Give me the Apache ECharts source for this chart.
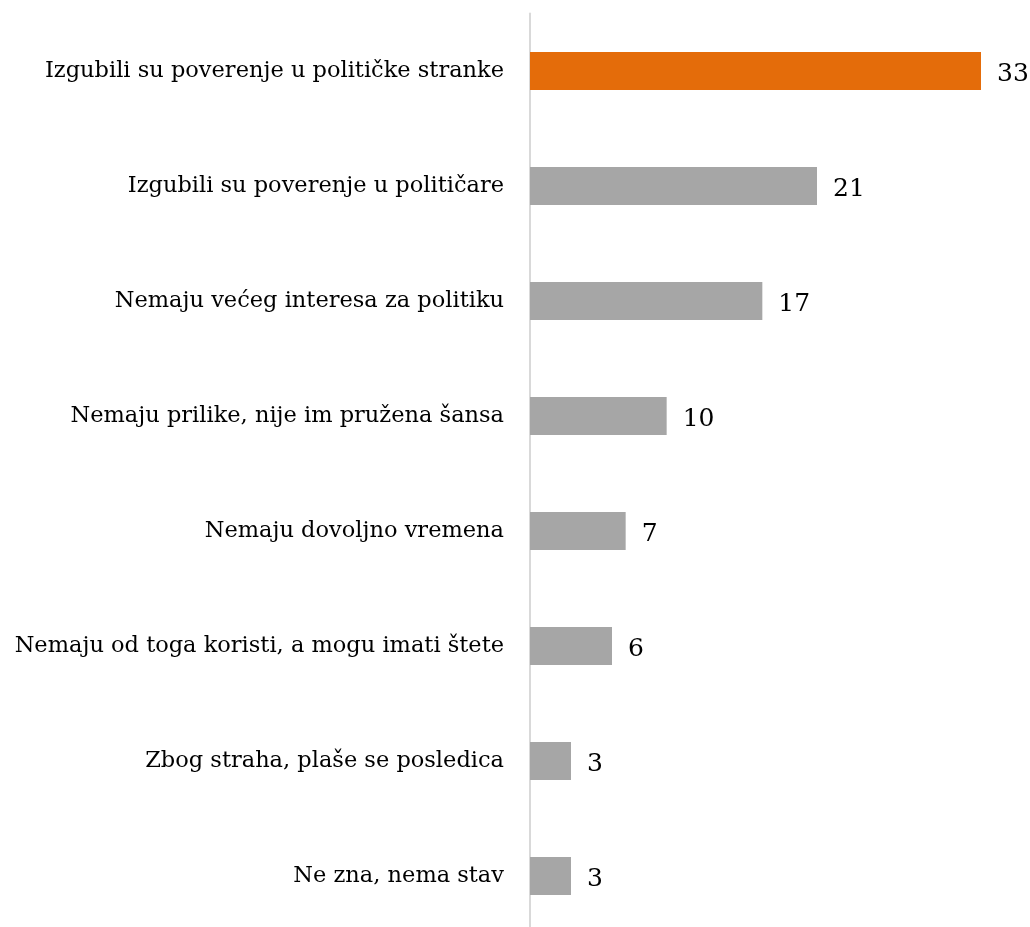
<!DOCTYPE html>
<html>
<head>
<meta charset="utf-8">
<script src="https://cdn.jsdelivr.net/npm/echarts@6/dist/echarts.min.js"></script>
<style>
html,body{margin:0;padding:0;background:#fff;}
#chart{width:1030px;height:927px;}
</style>
</head>
<body>
<div id="chart"></div>
<script>
const categories = [
  "Izgubili su poverenje u političke stranke",
  "Izgubili su poverenje u političare",
  "Nemaju većeg interesa za politiku",
  "Nemaju prilike, nije im pružena šansa",
  "Nemaju dovoljno vremena",
  "Nemaju od toga koristi, a mogu imati štete",
  "Zbog straha, plaše se posledica",
  "Ne zna, nema stav"
];
const values = [33, 21, 17, 10, 7, 6, 3, 3];
const highlightIndex = 0;

const chart = echarts.init(document.getElementById('chart'), null, {renderer: 'canvas'});
chart.setOption({
  backgroundColor: '#ffffff',
  animation: false,
  grid: {left: 530, top: 13.5, width: 451, height: 920, containLabel: false, outerBoundsMode: 'none'},
  xAxis: {
    type: 'value', min: 0, max: 33, show: false
  },
  yAxis: {
    type: 'category', data: categories, inverse: true,
    axisLine: {show: true, lineStyle: {color: '#d9d9d9', width: 2}},
    axisTick: {show: false},
    axisLabel: {fontFamily: 'DejaVu Serif', fontSize: 22.5, color: '#000', margin: 26}
  },
  series: [{
    type: 'bar',
    data: values.map((v, i) => ({value: v, itemStyle: {color: i === highlightIndex ? '#E46C0A' : '#A6A6A6'}})),
    barWidth: 38,
    label: {show: true, position: 'right', distance: 16, fontFamily: 'DejaVu Serif', fontSize: 25, color: '#000', offset: [0, 3]}
  }]
});
</script>
</body>
</html>
